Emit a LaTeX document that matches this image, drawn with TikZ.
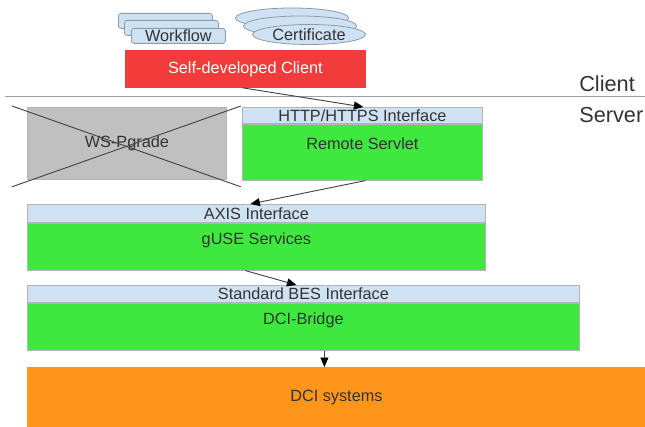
\documentclass[tikz,border=0pt]{standalone}
\usepackage{fontspec}
\setmainfont{Liberation Sans}
\usetikzlibrary{positioning,shapes.geometric,arrows.meta}
\newcommand{\pxu}{0.75pt}
\definecolor{clientred}{HTML}{F23B3B}
\definecolor{srvgreen}{HTML}{3EE83E}
\definecolor{ifaceblue}{HTML}{CFE2F3}
\definecolor{dciorange}{HTML}{FF951A}
\definecolor{wsgrey}{HTML}{C0C0C0}
\definecolor{boxline}{HTML}{B4B4B4}
\definecolor{docline}{HTML}{8C9AAA}
\definecolor{txtgrey}{HTML}{333333}
\definecolor{linegrey}{HTML}{444444}
\tikzset{
	%estils de les caixes
	box/.style = {rectangle, draw=boxline, line width=0.6pt, inner sep=0pt,
                           anchor=north west, text=txtgrey,
                           font=\fontsize{12.2}{14}\selectfont},
	iface/.style = {box, fill=ifaceblue},
	srvbox/.style = {box, fill=srvgreen, text height=8.7pt, text depth=12.5pt},
	doc/.style = {box, fill=ifaceblue, draw=docline, rounded corners=2pt,
                           minimum width=94*\pxu, minimum height=15*\pxu},
	cert/.style = {ellipse, draw=docline, fill=ifaceblue, line width=0.6pt,
                           inner sep=0pt, text=txtgrey,
                           minimum width=113*\pxu, minimum height=20*\pxu,
                           font=\fontsize{12.2}{14}\selectfont},
	side/.style = {inner sep=0pt, text=txtgrey, anchor=base west,
                           font=\fontsize{16.3}{18}\selectfont},
	conn/.style = {-{Triangle[length=9.5*\pxu, width=8*\pxu, color=black]}, draw=linegrey,
                           line width=0.7pt},
	cross/.style = {draw=linegrey, line width=0.7pt}
}
\begin{document}
\begin{tikzpicture}[x=\pxu, y=-\pxu]
		\useasboundingbox (0,0) rectangle (645,427);
		% client
		\node (wfback) [doc]  at (118,13) {};
		\node (wfmid)  [doc]  at (124,20) {};
		\node (wf)     [doc]  at (131,28) {Workflow};
		\node (certback) [cert] at (292,18) {};
		\node (certmid)  [cert] at (300,26) {};
		\node (cert)     [cert] at (309,34.5) {Certificate};
		\node (client) [box, fill=clientred, draw=clientred, text=white,
		                minimum width=240*\pxu, minimum height=37*\pxu] at (125,50) {Self-developed Client};
		
		\coordinate (sepl) at (5,96.5);
		\coordinate (sepr) at (645,96.5);
		\draw[draw=gray!75, line width=1.3pt] (sepl) -- (sepr);
		\node (clientlbl) [side] at (579,92)  {Client};
		\node (serverlbl) [side] at (579,123) {Server};
		
		% server
		\node (ws) [box, fill=wsgrey, minimum width=199*\pxu, minimum height=72*\pxu] at (27,107) {WS-Pgrade};
		\draw[cross] ([shift={(-15,-1)}]ws.north west) -- ([shift={(14,7)}]ws.south east);
		\draw[cross] ([shift={(-15,7)}]ws.south west) -- ([shift={(14,-1)}]ws.north east);
		
		\node (http)    [iface, minimum width=240*\pxu, minimum height=16*\pxu] at (242,107) {HTTP/HTTPS Interface};
		\node (servlet) [srvbox, minimum width=240*\pxu, minimum height=56*\pxu, below=0pt of http] {Remote Servlet};
		\node (axis)    [iface, minimum width=458*\pxu, minimum height=18*\pxu] at (27,204) {AXIS Interface};
		\node (guse)    [srvbox, minimum width=458*\pxu, minimum height=47*\pxu, below=0pt of axis] {gUSE Services};
		\node (bes)     [iface, minimum width=552*\pxu, minimum height=17*\pxu] at (27,285) {Standard BES Interface};
		\node (bridge)  [srvbox, minimum width=552*\pxu, minimum height=47*\pxu, below=0pt of bes] {DCI-Bridge};
		\node (dci)     [box, fill=dciorange, draw=dciorange, minimum width=618*\pxu, minimum height=60*\pxu] at (27,367) {DCI systems};
		
		\draw[conn] ([shift={(-3,0)}]client.south) -- ([shift={(1,0)}]http.north);
		\draw[conn] ([shift={(3,0)}]servlet.south) -- ([shift={(-6,0)}]axis.north);
		\draw[conn] ([shift={(-11,0)}]guse.south)  -- ([shift={(-7,0)}]bes.north);
		\draw[conn] ([shift={(21,0)}]bridge.south) -- ([shift={(-12,0)}]dci.north);
	\end{tikzpicture}
\end{document}
